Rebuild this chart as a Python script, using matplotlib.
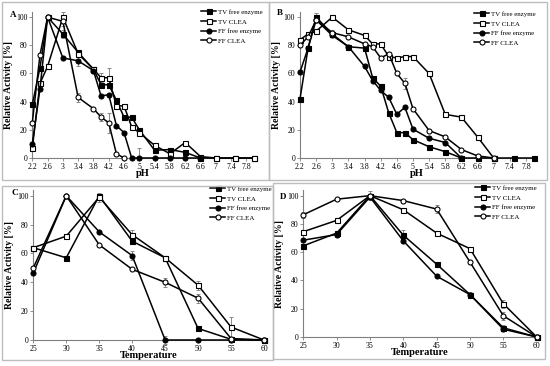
import numpy as np
import matplotlib
matplotlib.use("Agg")
import matplotlib.pyplot as plt
from matplotlib.patches import Rectangle

plt.rcParams['font.family'] = ['Liberation Serif', 'DejaVu Serif']

labels = ["TV free enzyme", "TV CLEA", "FF free enzyme", "FF CLEA"]

# ---- panel A: pH, first organism set ----
ph_a = [2.2, 2.4, 2.6, 3.0, 3.4, 3.8, 4.0, 4.2, 4.4, 4.6, 4.8, 5.0, 5.4, 5.8, 6.2, 6.6, 7.0, 7.5, 8.0]
a_tv_free = [38, 64, 100, 88, 75, 63, 52, 52, 41, 29, 29, 20, 5.5, 6, 4, 0, 0, 0, 0]
a_tv_clea = [7, 53, 65, 100, 74, 63, 57, 57, 37, 37, 22, 18, 9, 3, 11, 1, 0, 0, 0]
a_ff_free = [10, 49, 100, 71, 69, 62, 44, 45, 23, 18, 0, 0, 0, 0, 0, 0]
a_ff_clea = [25, 73, 100, 97, 43, 35, 29, 25, 3, 0]
a_tv_free_err = [0, 0, 0, 3, 0, 0, 0, 0, 0, 0, 0, 0, 0, 0, 0, 0, 0, 0, 0]
a_tv_clea_err = [0, 0, 0, 4, 0, 0, 3, 7, 0, 0, 0, 0, 0, 0, 0, 0, 0, 0, 0]
a_ff_free_err = [0, 0, 0, 0, 4, 0, 0, 0, 0, 0, 0, 7, 0, 0, 0, 0]
a_ff_clea_err = [0, 0, 0, 3, 3, 0, 3, 7, 0, 0]

# ---- panel B: pH, second set ----
ph_b = [2.2, 2.4, 2.6, 3.0, 3.4, 3.8, 4.0, 4.2, 4.4, 4.6, 4.8, 5.0, 5.4, 5.8, 6.2, 6.6, 7.0, 7.5, 8.0]
b_tv_free = [42, 78, 100, 88, 79, 78, 57, 51, 32, 18, 18, 13, 8, 4.5, 0, 0, 0, 0, 0]
b_tv_clea = [84, 88, 90, 100, 91, 87, 81, 81, 72, 71, 72, 72, 60, 31, 29, 15, 0]
b_ff_free = [61, 78, 98, 87, 79, 65, 55, 48, 43, 31, 36, 20.5, 14, 11, 0]
b_ff_clea = [80, 86, 98, 89, 86, 81, 79, 71, 74, 60, 53, 35, 19.5, 15, 6, 1.5, 0]
b_tv_free_err = [0, 0, 3, 0, 0, 0, 0, 0, 0, 0, 0, 0, 0, 0, 0, 0, 0, 0, 0]
b_tv_clea_err = [0] * 17
b_ff_free_err = [0, 0, 0, 0, 0, 0, 0, 0, 0, 0, 0, 0, 0, 0, 0]
b_ff_clea_err = [0, 0, 0, 2, 0, 0, 0, 0, 0, 0, 4, 0, 0, 0, 0, 0, 0]

# ---- panel C: temperature, first set ----
temp = [25, 30, 35, 40, 45, 50, 55, 60]
c_tv_free = [64, 57, 100, 68.5, 57, 8, 0.5, 0]
c_tv_clea = [64, 72, 99, 73, 57, 38, 9, 0]
c_ff_free = [46.5, 100, 75, 58.5, 0, 0, 0, 0]
c_ff_clea = [50, 100, 66, 49, 40, 29, 1, 0]
c_tv_free_err = [0, 0, 0, 0, 0, 0, 0, 0]
c_tv_clea_err = [0, 0, 3, 3, 0, 3, 7, 0]
c_ff_free_err = [0, 0, 0, 3, 3, 0, 0, 0]
c_ff_clea_err = [0, 0, 0, 0, 3, 3, 0, 0]

# ---- panel D: temperature, second set ----
d_tv_free = [64.5, 73.5, 100, 72, 51.5, 30, 6.5, 0]
d_tv_clea = [74.5, 82.5, 100, 90, 73.5, 62.5, 23.5, 0]
d_ff_free = [68.5, 72.5, 99, 68, 43, 30, 5.5, 0]
d_ff_clea = [86.5, 97.5, 100, 96.5, 90.5, 53, 15, 0]
d_tv_free_err = [0, 0, 0, 4, 0, 0, 2, 0]
d_tv_clea_err = [0, 0, 3, 0, 0, 0, 3, 0]
d_ff_free_err = [0, 2, 0, 0, 0, 2, 0, 0]
d_ff_clea_err = [2, 0, 0, 0, 3, 0, 3, 0]

W, H = 550, 366
fig = plt.figure(figsize=(W / 100, H / 100), dpi=100)


def px_axes(x0, y_top, x1, y_bot):
    return fig.add_axes([x0 / W, 1 - y_bot / H, (x1 - x0) / W, (y_bot - y_top) / H])


def frame(x0, y0, x1, y1):
    fig.patches.append(Rectangle((x0 / W, 1 - y1 / H), (x1 - x0) / W, (y1 - y0) / H,
                                 transform=fig.transFigure, fill=False,
                                 edgecolor='#bdbdbd', linewidth=1.0))


styles = [
    dict(marker='s', mfc='black'),
    dict(marker='s', mfc='white'),
    dict(marker='o', mfc='black'),
    dict(marker='o', mfc='white'),
]


def draw_panel(ax, xs, series, errs, xlabel, letter, letter_pos, leg_pos):
    for ys, es, st, lab in zip(series, errs, styles, labels):
        x = xs[:len(ys)]
        e = np.array(es, dtype=float)
        ax.errorbar(x, ys, yerr=np.where(e > 0, e, np.nan), fmt='none',
                    ecolor='#888888', elinewidth=0.7, capsize=1.5, capthick=0.7, zorder=2)
        ax.plot(x, ys, color='black', linewidth=1.1, marker=st['marker'],
                markersize=3.6, markerfacecolor=st['mfc'], markeredgecolor='black',
                markeredgewidth=0.8, label=lab, zorder=3)
    ax.set_ylim(0, 104)
    ax.set_yticks([0, 20, 40, 60, 80, 100])
    for s in ['top', 'right']:
        ax.spines[s].set_visible(False)
    for s in ['left', 'bottom']:
        ax.spines[s].set_color('#7f7f7f')
        ax.spines[s].set_linewidth(0.8)
    ax.tick_params(axis='both', labelsize=5.6, length=2, width=0.6, color='#7f7f7f', pad=1.5)
    ax.set_ylabel("Relative Activity [%]", fontsize=7, fontweight='bold', labelpad=2)
    ax.set_xlabel(xlabel, fontsize=7.5, fontweight='bold', labelpad=-1)
    ax.patch.set_alpha(0)
    fig.text(letter_pos[0] / W, 1 - letter_pos[1] / H, letter, fontsize=6.5,
             fontweight='bold', ha='left', va='center')
    ax.legend(loc='upper left', bbox_to_anchor=(leg_pos[0] / W, 1 - leg_pos[1] / H),
              bbox_transform=fig.transFigure, frameon=False, fontsize=5,
              handlelength=2.2, handletextpad=0.3, labelspacing=0.55,
              borderpad=0, borderaxespad=0)


frame(2, 2, 269, 180)
frame(269, 2, 547, 180)
frame(2, 186, 273, 360)
frame(273, 183, 545, 359)

ph_ticks = [2.2, 2.6, 3.0, 3.4, 3.8, 4.2, 4.6, 5.0, 5.4, 5.8, 6.2, 6.6, 7.0, 7.4, 7.8]
ph_ticklabels = ["2.2", "2.6", "3", "3.4", "3.8", "4.2", "4.6", "5", "5.4", "5.8",
                 "6.2", "6.6", "7", "7.4", "7.8"]

axA = px_axes(32.3, 11.5, 254, 158)
draw_panel(axA, ph_a, [a_tv_free, a_tv_clea, a_ff_free, a_ff_clea],
           [a_tv_free_err, a_tv_clea_err, a_ff_free_err, a_ff_clea_err],
           "pH", "A", (10, 15), (201, 9))
axA.set_xlim(2.2, 8.0)
axA.set_xticks(ph_ticks, ph_ticklabels)

axB = px_axes(300, 11.5, 534, 158)
draw_panel(axB, ph_b, [b_tv_free, b_tv_clea, b_ff_free, b_ff_clea],
           [b_tv_free_err, b_tv_clea_err, b_ff_free_err, b_ff_clea_err],
           "pH", "B", (277, 13), (474, 11))
axB.set_xlim(2.2, 8.0)
axB.set_xticks(ph_ticks, ph_ticklabels)

axC = px_axes(33.3, 190, 264, 340)
draw_panel(axC, temp, [c_tv_free, c_tv_clea, c_ff_free, c_ff_clea],
           [c_tv_free_err, c_tv_clea_err, c_ff_free_err, c_ff_clea_err],
           "Temperature", "C", (11, 193), (210, 186))
axC.set_xlim(25, 60)
axC.set_xticks(temp)

axD = px_axes(303.3, 190, 536.7, 337)
draw_panel(axD, temp, [d_tv_free, d_tv_clea, d_ff_free, d_ff_clea],
           [d_tv_free_err, d_tv_clea_err, d_ff_free_err, d_ff_clea_err],
           "Temperature", "D", (280, 197), (475, 185))
axD.set_xlim(25, 60)
axD.set_xticks(temp)

for ax in (axA, axB, axC, axD):
    for lab in ax.get_xticklabels() + ax.get_yticklabels():
        lab.set_clip_on(False)
    for line in ax.get_lines():
        line.set_clip_on(False)

fig.savefig("out.png", dpi=100)
